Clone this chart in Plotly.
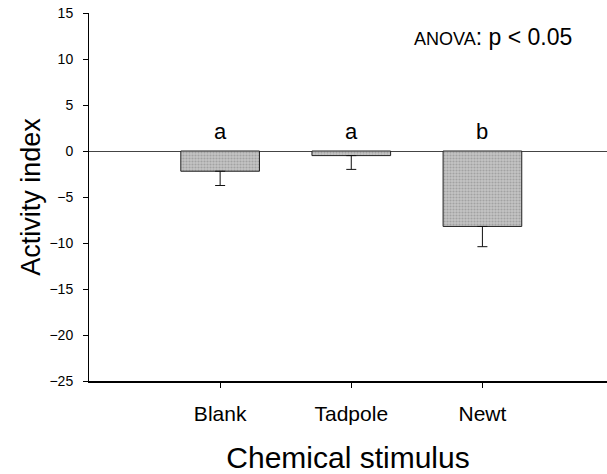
import plotly.graph_objects as go

categories = ["Blank", "Tadpole", "Newt"]
means = [-2.2, -0.5, -8.2]
se = [1.55, 1.5, 2.2]
letters = ["a", "a", "b"]
y_ticks = [15, 10, 5, 0, -5, -10, -15, -20, -25]

FONT = "Liberation Sans, Arial, Helvetica"

fig = go.Figure()
fig.add_trace(go.Bar(
    x=categories, y=means, width=0.6,
    marker=dict(color="#b8b8b8", line=dict(color="#222", width=1),
                pattern=dict(shape=".", fgcolor="#808080", bgcolor="#c4c4c4", size=3, solidity=0.4)),
    error_y=dict(type="data", symmetric=False, array=[0]*len(se), arrayminus=se,
                 color="#111", thickness=1, width=5),
    showlegend=False,
))
for c, m, l in zip(categories, means, letters):
    fig.add_annotation(x=c, y=2.1, text=l, showarrow=False, xref="x", yref="y",
                       yanchor="middle",
                       font=dict(size=22, color="black", family=FONT))

fig.add_annotation(xref="paper", yref="paper", x=0.937, y=0.935, xanchor="right", yanchor="middle",
                   text="<span style='font-size:18px'>ANOVA</span>: p &lt; 0.05", showarrow=False,
                   font=dict(size=23, color="black", family=FONT))

fig.update_layout(
    width=607, height=474,
    margin=dict(l=89, r=0, t=13, b=93),
    plot_bgcolor="white", paper_bgcolor="white",
    font=dict(family=FONT, color="black"),
    xaxis=dict(range=[-1, 2.95], showline=True, linecolor="black", linewidth=1.5,
               ticks="outside", ticklen=5, tickcolor="black", tickfont=dict(size=21),
               ticklabelstandoff=8, automargin=False,
               title=dict(text="Chemical stimulus", font=dict(size=30), standoff=25),
               showgrid=False, zeroline=False),
    yaxis=dict(range=[-25, 15], tickvals=y_ticks, showline=True, linecolor="black", linewidth=1,
               ticks="outside", ticklen=5, tickcolor="black", tickfont=dict(size=14),
               ticklabelstandoff=7, automargin=False,
               title=dict(text="Activity index", font=dict(size=27), standoff=1),
               showgrid=False, zeroline=True, zerolinecolor="#444", zerolinewidth=1),
)
fig.write_html("out.html", config={"displayModeBar": False},
               post_script="document.body.style.margin='0';document.body.style.overflow='hidden';")
